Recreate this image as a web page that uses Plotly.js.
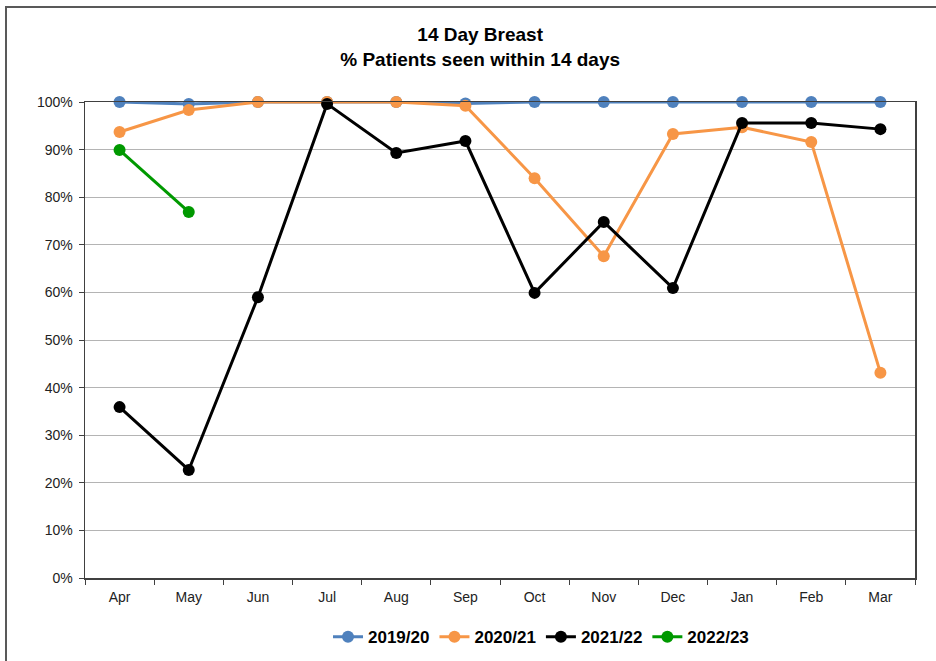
<!DOCTYPE html>
<html>
<head>
<meta charset="utf-8">
<script src="https://cdn.plot.ly/plotly-3.0.1.min.js"></script>
<style>
  body { margin: 0; background: #fff; overflow: hidden; }
  #frame { position: absolute; left: 5px; top: 6px; width: 1000px; height: 1000px;
           border-top: 2px solid #595959; border-left: 2px solid #595959; pointer-events: none; }
  #chart { position: absolute; left: 0; top: 0; width: 936px; height: 661px; }
</style>
</head>
<body>
<div id="chart"></div>
<div id="frame"></div>
<script>
const months = ['Apr', 'May', 'Jun', 'Jul', 'Aug', 'Sep', 'Oct', 'Nov', 'Dec', 'Jan', 'Feb', 'Mar'];

const y2019 = [100, 99.6, 100, 100, 100, 99.7, 100, 100, 100, 100, 100, 100];
const y2020 = [93.7, 98.3, 100, 100, 100, 99.2, 84.0, 67.6, 93.3, 94.7, 91.6, 43.1];
const y2021 = [35.9, 22.7, 59.0, 99.6, 89.3, 91.8, 59.9, 74.8, 60.9, 95.6, 95.6, 94.3];
const y2022 = [89.9, 76.9];

const seriesNames = ['2019/20', '2020/21', '2021/22', '2022/23'];
const seriesColors = ['#4f81bd', '#f79646', '#000000', '#009900'];
const seriesValues = [y2019, y2020, y2021, y2022];

const traces = seriesValues.map((vals, i) => ({
    x: months.slice(0, vals.length),
    y: vals,
    mode: 'lines+markers',
    name: seriesNames[i],
    line: { width: 3, color: seriesColors[i] },
    marker: { size: 12, color: seriesColors[i] },
    cliponaxis: false,
}));

Plotly.newPlot('chart', traces, {
    width: 936,
    height: 661,
    margin: { l: 85, r: 21, t: 102, b: 83 },
    font: { family: 'Liberation Sans, Arial, sans-serif', color: '#222' },
    title: {
        text: '<b>14 Day Breast</b><br><b>% Patients seen within 14 days</b>',
        font: { size: 19, color: '#000' },
        x: 0.513, xanchor: 'center',
        y: 0.938, yanchor: 'middle',
    },
    xaxis: {
        type: 'category',
        range: [-0.5, 11.5],
        autorange: false,
        showgrid: false,
        showline: true,
        mirror: true,
        linecolor: '#404040',
        linewidth: 1.5,
        ticks: 'outside',
        tickson: 'boundaries',
        ticklen: 5,
        tickcolor: '#404040',
        tickfont: { size: 14 },
        ticklabelstandoff: 6,
        fixedrange: true,
    },
    yaxis: {
        range: [0, 100],
        autorange: false,
        dtick: 10,
        ticksuffix: '%',
        showline: true,
        mirror: true,
        linecolor: '#404040',
        linewidth: 1.5,
        gridcolor: '#b4b4b4',
        ticks: 'outside',
        ticklen: 5,
        tickcolor: '#404040',
        tickfont: { size: 14 },
        ticklabelstandoff: 3,
        zeroline: false,
        fixedrange: true,
    },
    showlegend: true,
    legend: {
        orientation: 'h',
        xref: 'container', x: 0.578, xanchor: 'center',
        yref: 'container', y: 0.036, yanchor: 'middle',
        font: { size: 17, color: '#000', weight: 'bold' },
        itemwidth: 30,
        tracegroupgap: 0,
    },
    paper_bgcolor: '#fff',
    plot_bgcolor: '#fff',
}, { staticPlot: true });
</script>
</body>
</html>
